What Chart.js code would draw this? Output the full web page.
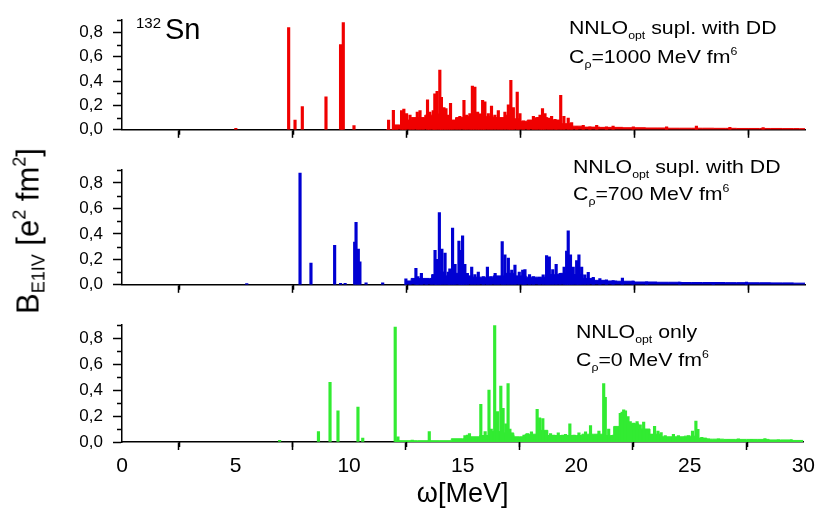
<!DOCTYPE html>
<html lang="en">
<head>
<meta charset="UTF-8">
<title>132Sn E1 isovector strength</title>
<style>
  body { margin: 0; background: #fff; font-family: "Liberation Sans", Arial, sans-serif; color: #000; }
  #wrap { position: relative; width: 819px; height: 512px; overflow: hidden; background: #fff; }
  canvas { position: absolute; left: 0; }
  .note { position: absolute; font-size: 19px; line-height: 1; white-space: nowrap; transform: scaleX(1.12); transform-origin: 0 0; }
  .note sub { font-size: 11px; vertical-align: baseline; position: relative; top: 5px; }
  .note sup { font-size: 11px; vertical-align: baseline; position: relative; top: -8px; }
  #ytitle { position: absolute; left: 28px; top: 231px; font-size: 31px; line-height: 1; white-space: nowrap;
            transform: translate(-50%, -50%) rotate(-90deg); }
  #ytitle sub { font-size: 18px; vertical-align: baseline; position: relative; top: 6px; }
  #ytitle sup { font-size: 18px; vertical-align: baseline; position: relative; top: -13px; }
</style>
</head>
<body>
<div id="wrap">
  <canvas id="p1" width="819" height="150" style="top:0"></canvas>
  <canvas id="p2" width="819" height="155" style="top:150px"></canvas>
  <canvas id="p3" width="819" height="207" style="top:305px"></canvas>

  <span class="note" style="left:136px;top:15px;font-size:15px;transform:none">132</span>
  <span class="note" style="left:165px;top:15px;font-size:29px;transform:none">Sn</span>

  <div class="note" style="left:569px;top:18px">NNLO<sub>opt</sub> supl. with DD</div>
  <div class="note" style="left:569px;top:47px">C<sub>ρ</sub>=1000 MeV fm<sup>6</sup></div>

  <div class="note" style="left:573px;top:157px">NNLO<sub>opt</sub> supl. with DD</div>
  <div class="note" style="left:573px;top:184px">C<sub>ρ</sub>=700 MeV fm<sup>6</sup></div>

  <div class="note" style="left:576px;top:322px">NNLO<sub>opt</sub> only</div>
  <div class="note" style="left:576px;top:350px">C<sub>ρ</sub>=0 MeV fm<sup>6</sup></div>

  <div id="ytitle">B<sub>E1IV</sub> [e<sup>2</sup> fm<sup>2</sup>]</div>
</div>

<script src="https://cdn.jsdelivr.net/npm/chart.js"></script>
<script>
  // tick positions
  const yMajorTicks = [0, 0.2, 0.4, 0.6, 0.8];
  const yMinorTicks = [0.1, 0.3, 0.5, 0.7, 0.9];
  const xMinorTicks = [2.5, 7.5, 12.5, 17.5, 22.5, 27.5];

  // C_rho = 1000 MeV fm^6 (red) - discrete lines, energy [MeV] and strength
  const redE = [5.0, 7.32, 7.6, 7.92, 8.96, 9.6, 9.66, 9.72, 10.19, 11.71, 11.92, 12.06, 12.28, 12.38, 12.5, 12.65, 12.79, 12.97, 13.09, 13.23,
    13.42, 13.52, 13.67, 13.74, 13.84, 13.96, 14.03, 14.14, 14.23, 14.33, 14.43, 14.55, 14.7, 14.84, 15.02, 15.14, 15.28, 15.39, 15.5, 15.62,
    15.72, 15.84, 15.94, 16.09, 16.23, 16.38, 16.53, 16.67, 16.82, 16.97, 17.08, 17.19, 17.36, 17.48, 17.63, 17.85, 18.07, 18.21, 18.36, 18.47,
    18.58, 18.73, 18.87, 19.02, 19.12, 19.27, 19.41, 19.6, 19.75, 19.97, 20.26, 20.55, 20.85, 21.28, 21.57, 22.46, 23.92, 25.23, 26.7, 28.16];
  const redB = [0.012, 0.84, 0.08, 0.19, 0.27, 0.70, 0.60, 0.88, 0.035, 0.08, 0.16, 0.025, 0.157, 0.17, 0.133, 0.12, 0.07, 0.145, 0.157, 0.097,
    0.247, 0.145, 0.157, 0.296, 0.315, 0.49, 0.267, 0.182, 0.175, 0.12, 0.218, 0.048, 0.06, 0.11, 0.242, 0.12, 0.133, 0.36, 0.35, 0.145,
    0.11, 0.242, 0.23, 0.133, 0.194, 0.12, 0.157, 0.085, 0.145, 0.206, 0.407, 0.182, 0.31, 0.133, 0.073, 0.06, 0.11, 0.10, 0.12, 0.175,
    0.133, 0.097, 0.11, 0.085, 0.06, 0.284, 0.11, 0.097, 0.06, 0.024, 0.036, 0.024, 0.036, 0.024, 0.03, 0.025, 0.025, 0.03, 0.02, 0.018];
  // red background (dense part of the spectrum)
  const redBgE = [11.6, 12.2, 12.4, 13.0, 13.6, 14.0, 14.5, 14.8, 15.2, 15.6, 16.0, 16.6, 17.0, 17.4, 17.6, 18.0, 18.4, 19.0, 19.6, 19.9,
    20.5, 21.5, 22.5, 23.5, 24.5, 25.5, 26.5, 27.5, 28.5, 29.5, 30.0];
  const redBgB = [0, 0.04, 0.08, 0.1, 0.12, 0.13, 0.08, 0.1, 0.11, 0.13, 0.11, 0.1, 0.12, 0.09, 0.07, 0.08, 0.1, 0.08, 0.05, 0.03,
    0.022, 0.02, 0.017, 0.015, 0.013, 0.013, 0.012, 0.011, 0.011, 0.01, 0.009];

  // C_rho = 700 MeV fm^6 (blue)
  const blueE = [5.48, 7.82, 8.3, 9.34, 9.6, 9.8, 10.22, 10.28, 10.38, 10.45, 10.72, 11.45, 12.47, 12.65, 12.91, 13.0, 13.15, 13.37, 13.6, 13.75,
    13.82, 13.94, 14.05, 14.19, 14.33, 14.4, 14.52, 14.63, 14.8, 14.88, 14.96, 15.06, 15.17, 15.36, 15.5, 15.65, 15.87, 16.05, 16.2, 16.39,
    16.53, 16.7, 16.82, 16.97, 17.12, 17.26, 17.45, 17.6, 17.7, 17.9, 18.07, 18.33, 18.5, 18.65, 18.77, 18.92, 19.07, 19.24, 19.42, 19.53,
    19.6, 19.7, 19.82, 19.97, 20.07, 20.19, 20.33, 20.48, 20.7, 20.99, 21.28, 21.57, 21.98, 22.45, 23.04, 24.5, 25.97, 27.43];
  const blueB = [0.01, 0.878, 0.17, 0.31, 0.012, 0.012, 0.335, 0.49, 0.28, 0.18, 0.015, 0.015, 0.046, 0.02, 0.13, 0.065, 0.09, 0.04, 0.05, 0.27,
    0.2, 0.567, 0.28, 0.25, 0.1, 0.125, 0.446, 0.16, 0.344, 0.27, 0.385, 0.16, 0.09, 0.14, 0.08, 0.1, 0.065, 0.14, 0.065, 0.09,
    0.065, 0.34, 0.235, 0.21, 0.115, 0.155, 0.10, 0.115, 0.12, 0.08, 0.065, 0.058, 0.078, 0.23, 0.22, 0.12, 0.16, 0.09, 0.14, 0.265,
    0.424, 0.235, 0.14, 0.19, 0.235, 0.14, 0.078, 0.097, 0.058, 0.048, 0.04, 0.034, 0.053, 0.03, 0.024, 0.022, 0.02, 0.022];
  const blueBgE = [12.4, 12.5, 12.9, 13.5, 13.7, 14.0, 14.4, 14.8, 15.2, 15.6, 16.0, 16.6, 17.0, 17.5, 18.0, 18.5, 19.0, 19.5, 20.0, 20.5,
    21.0, 21.5, 22.0, 23.0, 24.0, 25.0, 26.0, 27.0, 28.0, 29.0, 30.0];
  const blueBgB = [0, 0.03, 0.05, 0.05, 0.08, 0.1, 0.07, 0.09, 0.07, 0.06, 0.06, 0.07, 0.09, 0.07, 0.06, 0.06, 0.08, 0.09, 0.08, 0.05,
    0.035, 0.03, 0.028, 0.022, 0.02, 0.018, 0.018, 0.017, 0.016, 0.015, 0.013];

  // C_rho = 0 (green)
  const greenE = [6.94, 8.65, 9.16, 9.51, 10.39, 10.6, 12.03, 12.15, 12.78, 13.53, 15.1, 15.21, 15.3, 15.58, 15.8, 15.99, 16.16, 16.26, 16.41, 16.53,
    16.68, 16.78, 16.9, 17.0, 17.08, 17.21, 17.48, 17.7, 17.85, 18.03, 18.28, 18.39, 18.53, 18.68, 18.87, 19.01, 19.21, 19.41, 19.53, 19.72,
    19.9, 20.12, 20.41, 20.63, 20.85, 21.0, 21.21, 21.28, 21.43, 21.65, 21.94, 22.02, 22.09, 22.17, 22.28, 22.38, 22.53, 22.68, 22.82, 22.97,
    23.11, 23.33, 23.45, 23.6, 23.74, 23.92, 24.14, 24.28, 24.5, 24.72, 24.94, 25.12, 25.27, 25.36, 25.53, 25.82, 26.26, 26.7, 27.14, 27.72,
    28.31, 28.9, 29.48];
  const greenB = [0.012, 0.08, 0.46, 0.24, 0.27, 0.03, 0.885, 0.04, 0.015, 0.08, 0.05, 0.053, 0.065, 0.036, 0.29, 0.08, 0.40, 0.10, 0.9, 0.235,
    0.43, 0.26, 0.14, 0.45, 0.10, 0.053, 0.03, 0.053, 0.065, 0.078, 0.252, 0.187, 0.18, 0.078, 0.065, 0.053, 0.07, 0.053, 0.06, 0.14,
    0.053, 0.07, 0.078, 0.126, 0.053, 0.085, 0.45, 0.344, 0.10, 0.053, 0.22, 0.23, 0.247, 0.24, 0.195, 0.158, 0.145, 0.158, 0.133, 0.153,
    0.085, 0.06, 0.12, 0.085, 0.073, 0.05, 0.036, 0.06, 0.05, 0.036, 0.05, 0.085, 0.162, 0.097, 0.036, 0.024, 0.024, 0.017, 0.024, 0.02,
    0.027, 0.017, 0.017];
  const greenBgE = [12.0, 14.0, 15.0, 15.5, 16.0, 16.5, 17.0, 17.5, 18.0, 18.5, 19.0, 19.5, 20.0, 20.5, 21.0, 21.5, 21.8, 22.5, 23.0, 23.5,
    24.0, 24.5, 25.0, 25.5, 26.0, 27.0, 28.0, 29.0, 30.0];
  const greenBgB = [0.01, 0.01, 0.025, 0.04, 0.05, 0.08, 0.07, 0.04, 0.06, 0.09, 0.05, 0.05, 0.05, 0.06, 0.06, 0.05, 0.12, 0.14, 0.1, 0.06,
    0.04, 0.04, 0.045, 0.03, 0.022, 0.02, 0.02, 0.016, 0.012];

  Chart.defaults.font.family = '"Liberation Sans", Arial, sans-serif';
  Chart.defaults.color = '#000';

  // short minor tick marks on both axes
  const minorTicks = {
    id: 'minorTicks',
    afterDraw(chart) {
      const { ctx, scales: { x, y } } = chart;
      ctx.save();
      ctx.strokeStyle = '#000';
      ctx.lineWidth = 1.5;
      ctx.beginPath();
      xMinorTicks.forEach(v => {
        const px = Math.round(x.getPixelForValue(v)) + 0.5;
        ctx.moveTo(px, x.top);
        ctx.lineTo(px, x.top + 5);
      });
      yMinorTicks.forEach(v => {
        const py = Math.round(y.getPixelForValue(v)) + 0.5;
        ctx.moveTo(y.right - 5, py);
        ctx.lineTo(y.right, py);
      });
      ctx.stroke();
      ctx.restore();
    }
  };

  function makePanel(id, lineE, lineB, bgE, bgB, color, padTop, axisH, bottom) {
    new Chart(document.getElementById(id), {
      type: 'bar',
      data: {
        datasets: [
          {
            type: 'bar',
            data: lineE.map((e, i) => ({ x: e, y: lineB[i] })),
            backgroundColor: color,
            barThickness: 2.5,
            order: 1
          },
          {
            type: 'line',
            data: bgE.map((e, i) => ({ x: e, y: bgB[i] })),
            stepped: 'middle',
            fill: 'origin',
            backgroundColor: color,
            borderColor: color,
            borderWidth: 1,
            pointRadius: 0,
            order: 2
          }
        ]
      },
      options: {
        responsive: false,
        animation: false,
        layout: { padding: { top: padTop, right: 14, left: 0, bottom: 0 } },
        plugins: { legend: { display: false }, tooltip: { enabled: false } },
        scales: {
          x: {
            type: 'linear', min: 0, max: 30, offset: false,
            ticks: { stepSize: 5, display: bottom, font: { size: 21 }, padding: 4, maxRotation: 0 },
            grid: { drawOnChartArea: false, drawTicks: true, tickLength: 8, tickColor: '#000', tickWidth: 1.5 },
            border: { display: true, color: '#000', width: 1.5 },
            title: { display: bottom, text: 'ω[MeV]', font: { size: 27 }, padding: { top: 0, bottom: 1 } },
            afterFit: s => { s.height = axisH; }
          },
          y: {
            min: 0, max: 0.9,
            afterBuildTicks: s => { s.ticks = yMajorTicks.map(v => ({ value: v })); },
            ticks: { font: { size: 17 }, padding: 10, callback: v => v.toFixed(1).replace('.', ',') },
            grid: { drawOnChartArea: false, drawTicks: true, tickLength: 9, tickColor: '#000', tickWidth: 1.5 },
            border: { display: true, color: '#000', width: 1.5 },
            afterFit: s => { s.width = 122; }
          }
        }
      },
      plugins: [minorTicks]
    });
  }

  makePanel('p1', redE, redB, redBgE, redBgB, 'rgb(240,0,0)', 10, 17, false);
  makePanel('p2', blueE, blueB, blueBgE, blueBgB, 'rgb(0,0,210)', 14, 17, false);
  makePanel('p3', greenE, greenB, greenBgE, greenBgB, 'rgb(50,235,50)', 13, 70, true);
</script>
</body>
</html>
